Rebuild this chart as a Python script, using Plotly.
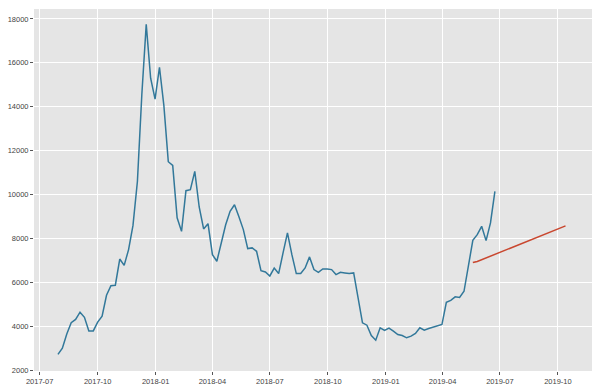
import plotly.graph_objects as go
import pandas as pd

# Weekly price series
start_date = "2017-07-30"
price = [
    2730, 3010, 3660, 4170, 4320, 4650, 4420, 3800, 3800, 4200,
    4470, 5420, 5860, 5880, 7070, 6780, 7500, 8600, 10600, 14550,
    17750, 15300, 14350, 15800, 14050, 11500, 11330, 8950, 8330, 10180,
    10230, 11060, 9440, 8440, 8680, 7270, 6970, 7800, 8630, 9240,
    9540, 8990, 8410, 7545, 7577, 7423, 6540, 6480, 6300, 6660,
    6410, 7350, 8260, 7270, 6409, 6409, 6666, 7168, 6590, 6468,
    6622, 6622, 6590, 6363, 6468, 6440, 6409, 6440, 5377, 4166,
    4060, 3590, 3377, 3940, 3818, 3923, 3786, 3636, 3590, 3486,
    3560, 3681, 3940, 3832, 3909, 3968, 4013, 4090, 5104, 5190,
    5350, 5320, 5604, 6740, 7922, 8181, 8560, 7909, 8713, 10150,
]
dates = pd.date_range(start_date, periods=len(price), freq="7D")

# Trend / forecast line
trend_dates = ["2019-05-19", "2019-05-26", "2019-10-13"]
trend_vals = [6910, 6960, 8580]

fig = go.Figure()
fig.add_trace(go.Scatter(x=dates, y=price, mode="lines",
                         line=dict(color="#32789a", width=1.5),
                         showlegend=False))
fig.add_trace(go.Scatter(x=trend_dates, y=trend_vals, mode="lines",
                         line=dict(color="#c9472f", width=1.5),
                         showlegend=False))

tickfont = dict(family="Liberation Sans", size=7.5, color="#444444")
fig.update_layout(
    width=600, height=390,
    margin=dict(l=34, r=8, t=9, b=19),
    paper_bgcolor="white",
    plot_bgcolor="#e5e5e5",
    xaxis=dict(
        range=["2017-06-22", "2019-11-24"],
        tick0="2017-07-01", dtick="M3", tickformat="%Y-%m",
        showgrid=True, gridcolor="white", gridwidth=1,
        zeroline=False, ticks="outside", ticklen=3, tickcolor="#555555",
        tickfont=tickfont, showline=False, automargin=False,
    ),
    yaxis=dict(
        range=[1975, 18450],
        tick0=2000, dtick=2000, tickformat="d",
        showgrid=True, gridcolor="white", gridwidth=1,
        zeroline=False, ticks="outside", ticklen=3, tickcolor="#555555",
        tickfont=tickfont, showline=False, automargin=False,
    ),
)

fig.write_html("out.html",
               config={"displayModeBar": False},
               post_script="document.body.style.margin='0';document.body.style.padding='0';")
